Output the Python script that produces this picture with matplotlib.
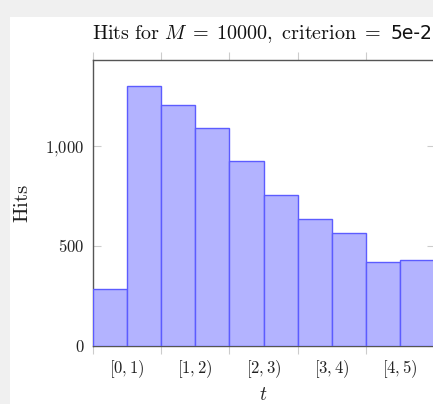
import matplotlib
matplotlib.use("Agg")
import matplotlib.pyplot as plt
from matplotlib.patches import Rectangle
from matplotlib.ticker import FixedLocator, NullFormatter, FixedFormatter

plt.rcParams['mathtext.fontset'] = 'cm'
plt.rcParams['font.family'] = ['DejaVu Serif']

bin_starts = [0.0, 0.5, 1.0, 1.5, 2.0, 2.5, 3.0, 3.5, 4.0, 4.5]
hits = [285, 1298, 1203, 1092, 923, 755, 633, 563, 418, 432]
bin_width = 0.5
interval_labels = [r"$[0,1)$", r"$[1,2)$", r"$[2,3)$", r"$[3,4)$", r"$[4,5)$"]
label_pos = [0.5, 1.5, 2.5, 3.5, 4.5]
y_ticks = [0, 500, 1000]
y_tick_labels = [r"$0$", r"$500$", r"$1{,}000$"]

W, H = 433, 404
fig = plt.figure(figsize=(W / 100, H / 100), dpi=100)
fig.patch.set_facecolor('#f0f0f0')
fig.patches.append(Rectangle((10 / W, 0), 1, (H - 17) / H, transform=fig.transFigure,
                             facecolor='white', edgecolor='none', zorder=-5))

x0, x1 = 92.5, 434.5
ytop, ybot = 60, 346
ax = fig.add_axes([x0 / W, (H - ybot) / H, (x1 - x0) / W, (ybot - ytop) / H])
ax.set_zorder(1)
ax.set_facecolor('white')

ax.bar(bin_starts, hits, width=bin_width, align='edge', color='#b3b3ff',
       edgecolor='#5c5cff', linewidth=1.0, zorder=3)

ax.set_xlim(0, 5)
ax.set_ylim(0, 1430)

for s in ax.spines.values():
    s.set_color('#555555')
    s.set_linewidth(1.0)

ax.xaxis.set_major_locator(FixedLocator([0, 1, 2, 3, 4, 5]))
ax.xaxis.set_major_formatter(NullFormatter())
ax.xaxis.set_minor_locator(FixedLocator(label_pos))
ax.xaxis.set_minor_formatter(FixedFormatter(interval_labels))
ax.tick_params(axis='x', which='major', direction='out', length=6, width=0.8,
               color='#cccccc', top=True, bottom=True)
ax.tick_params(axis='x', which='minor', length=0, labelsize=12, pad=9,
               labelcolor='#222222')

ax.set_yticks(y_ticks)
ax.set_yticklabels(y_tick_labels)
ax.tick_params(axis='y', direction='in', length=6, width=0.8, color='#cccccc',
               left=True, right=True, labelsize=12, pad=6, labelcolor='#222222')

ax.set_ylabel(r"$\mathrm{Hits}$", fontsize=15, labelpad=9, color='#222222')
ax.set_xlabel(r"$t$", fontsize=14, labelpad=4, color='#222222')

fig.text(381 / W, (H - 39) / H, r"$\mathrm{Hits\ for\ }M\;=\;10000\mathrm{,\ criterion}\;=$",
         ha='right', va='baseline', fontsize=14.5, color='#111111')
fig.text(391 / W, (H - 39) / H, "5e-2", family='DejaVu Sans',
         ha='left', va='baseline', fontsize=13.5, color='#111111')

fig.savefig('out.png', dpi=100, facecolor=fig.get_facecolor())
